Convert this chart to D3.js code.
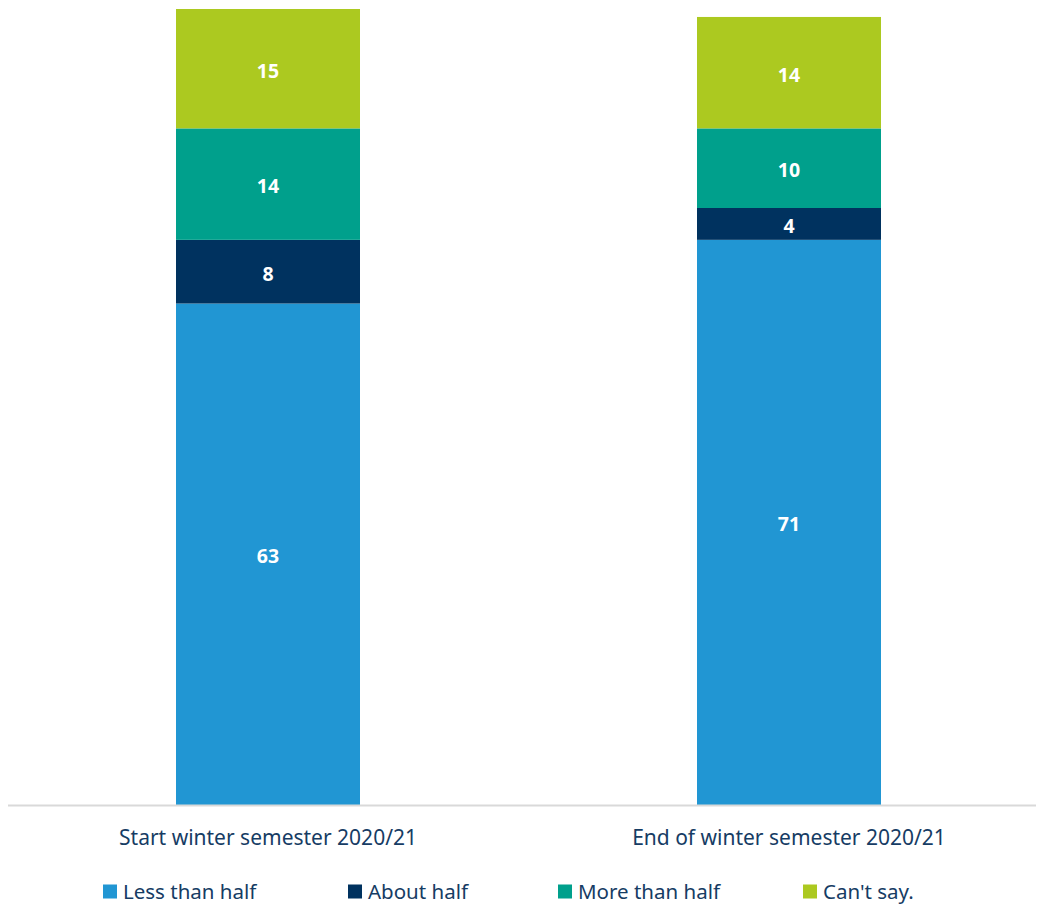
<!DOCTYPE html>
<html>
<head>
<meta charset="utf-8">
<script src="https://cdn.jsdelivr.net/npm/d3@7"></script>
<style>
  body { margin: 0; background: #fff; }
  svg { display: block; font-family: "Source Sans Pro", "Noto Sans", sans-serif; }
</style>
</head>
<body>
<svg id="chart" width="1039" height="907"></svg>
<script>
// Share of students (%) per period, stacked bottom to top
const categories = ["Start winter semester 2020/21", "End of winter semester 2020/21"];
const seriesNames = ["Less than half", "About half", "More than half", "Can't say."];
const lessThanHalf = [63, 71];
const aboutHalf = [8, 4];
const moreThanHalf = [14, 10];
const cantSay = [15, 14];
const colors = ["#2196d3", "#00325f", "#00a08c", "#acc920"];

const rows = categories.map((c, i) => ({
  category: c,
  "Less than half": lessThanHalf[i],
  "About half": aboutHalf[i],
  "More than half": moreThanHalf[i],
  "Can't say.": cantSay[i]
}));

const svg = d3.select("#chart");
const textColor = "#163c64";

const x = d3.scaleBand()
  .domain(categories)
  .range([7.5, 1049.5])
  .paddingInner(1 - 184 / 521)
  .paddingOuter((1 - 184 / 521) / 2);

const y = d3.scaleLinear().domain([0, 100]).range([805, 9]);
const color = d3.scaleOrdinal().domain(seriesNames).range(colors);

const stacked = d3.stack().keys(seriesNames)(rows);

const layers = svg.append("g").selectAll("g")
  .data(stacked)
  .join("g")
  .attr("fill", d => color(d.key));

layers.selectAll("rect")
  .data(d => d)
  .join("rect")
  .attr("x", d => x(d.data.category))
  .attr("width", x.bandwidth())
  .attr("y", d => y(d[1]))
  .attr("height", d => y(d[0]) - y(d[1]));

// Value labels in the middle of each segment
layers.selectAll("text")
  .data(d => d.map(v => ({ v, key: d.key })))
  .join("text")
  .attr("x", d => x(d.v.data.category) + x.bandwidth() / 2)
  .attr("y", d => (y(d.v[0]) + y(d.v[1])) / 2 + 2)
  .attr("dy", "0.35em")
  .attr("text-anchor", "middle")
  .attr("fill", "#fff")
  .attr("font-weight", "bold")
  .attr("font-size", 19.5)
  .text(d => d.v.data[d.key]);

// Baseline
svg.append("line")
  .attr("x1", 8).attr("x2", 1036)
  .attr("y1", 805.5).attr("y2", 805.5)
  .attr("stroke", "#d9d9d9")
  .attr("stroke-width", 2);

// Category axis labels
const xAxis = svg.append("g")
  .attr("transform", "translate(0,805)")
  .call(d3.axisBottom(x).tickSize(0).tickPadding(0))
  .attr("font-family", null)
  .attr("font-size", null);
xAxis.select(".domain").remove();
xAxis.selectAll("text")
  .attr("y", 33)
  .attr("dy", "0.35em")
  .attr("fill", textColor)
  .attr("font-size", 21);

// Legend
const legendX = [103, 348, 558, 803];
const legend = svg.append("g").selectAll("g")
  .data(seriesNames)
  .join("g")
  .attr("transform", (d, i) => `translate(${legendX[i]},891.5)`);
legend.append("rect")
  .attr("x", 0).attr("y", -7)
  .attr("width", 14).attr("height", 14)
  .attr("fill", d => color(d));
legend.append("text")
  .attr("x", 20)
  .attr("dy", "0.35em")
  .attr("fill", textColor)
  .attr("font-size", 20.5)
  .text(d => d);
</script>
</body>
</html>
